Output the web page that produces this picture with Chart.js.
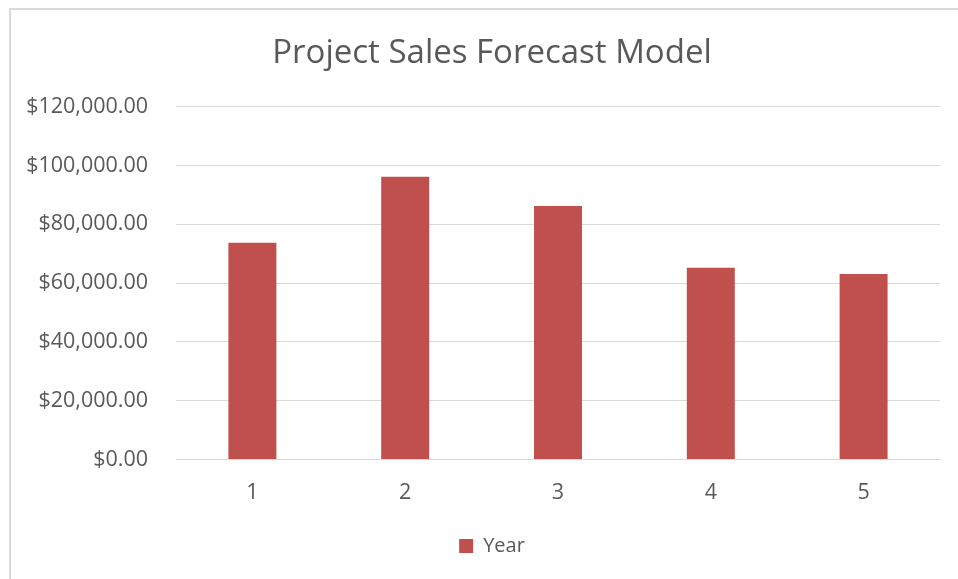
<!DOCTYPE html>
<html>
<head>
<meta charset="utf-8">
<script src="https://cdn.jsdelivr.net/npm/chart.js@4.4.0/dist/chart.umd.min.js"></script>
<style>
  html, body { margin: 0; padding: 0; background: #ffffff; }
  #wrap { position: relative; width: 958px; height: 579px; overflow: hidden; }
  #frame { position: absolute; left: 9px; top: 8px; right: -10px; bottom: -10px; border-left: 2px solid #d9d9d9; border-top: 2px solid #d9d9d9; box-sizing: border-box; pointer-events: none; }
  canvas { position: absolute; left: 0; top: 0; }
</style>
</head>
<body>
<div id="wrap">
  <canvas id="c" width="958" height="579"></canvas>
  <div id="frame"></div>
</div>
<script>
const categories = ["1", "2", "3", "4", "5"];
const seriesName = "Year";
const salesValues = [73700, 96100, 86200, 65200, 63100];
const yTickValues = [0, 20000, 40000, 60000, 80000, 100000, 120000];
const chartTitle = "Project Sales Forecast Model";

const fmt = v => "$" + Number(v).toLocaleString("en-US", { minimumFractionDigits: 2, maximumFractionDigits: 2 });
const FONT = "'Open Sans', 'Liberation Sans', sans-serif";

// let the y-axis labels extend into the left layout padding without being clipped
const widenYLabelArea = {
  id: "widenYLabelArea",
  afterLayout(chart) { if (chart.scales.y) chart.scales.y.left = 0; }
};

new Chart(document.getElementById("c"), {
  type: "bar",
  data: {
    labels: categories,
    datasets: [{
      label: seriesName,
      data: salesValues,
      backgroundColor: "#C0504D",
      borderWidth: 0,
      categoryPercentage: 1.0,
      barPercentage: 0.314
    }]
  },
  plugins: [widenYLabelArea],
  options: {
    responsive: false,
    animation: false,
    devicePixelRatio: 1,
    layout: { padding: { left: 44, right: 18, top: 0, bottom: 13 } },
    plugins: {
      title: {
        display: true,
        text: chartTitle,
        color: "#595959",
        font: { family: FONT, size: 33, weight: "normal" },
        padding: { top: 34, bottom: 33 }
      },
      legend: {
        display: true,
        position: "bottom",
        labels: {
          color: "#595959",
          font: { family: FONT, size: 20 },
          boxWidth: 14,
          boxHeight: 14,
          padding: 10
        }
      },
      tooltip: { enabled: false }
    },
    scales: {
      x: {
        grid: { display: false, drawTicks: false },
        border: { display: true, color: "#d9d9d9", width: 1 },
        ticks: { color: "#595959", font: { family: FONT, size: 21.5 }, padding: 20.4 }
      },
      y: {
        min: 0,
        max: 120000,
        afterFit: s => { s.width = 132; },
        afterBuildTicks: s => { s.ticks = yTickValues.map(v => ({ value: v })); },
        grid: { color: "#d9d9d9", lineWidth: 1, drawTicks: false },
        border: { display: false },
        ticks: { color: "#595959", font: { family: FONT, size: 21.5 }, padding: 28, callback: v => fmt(v) }
      }
    }
  }
});
</script>
</body>
</html>
